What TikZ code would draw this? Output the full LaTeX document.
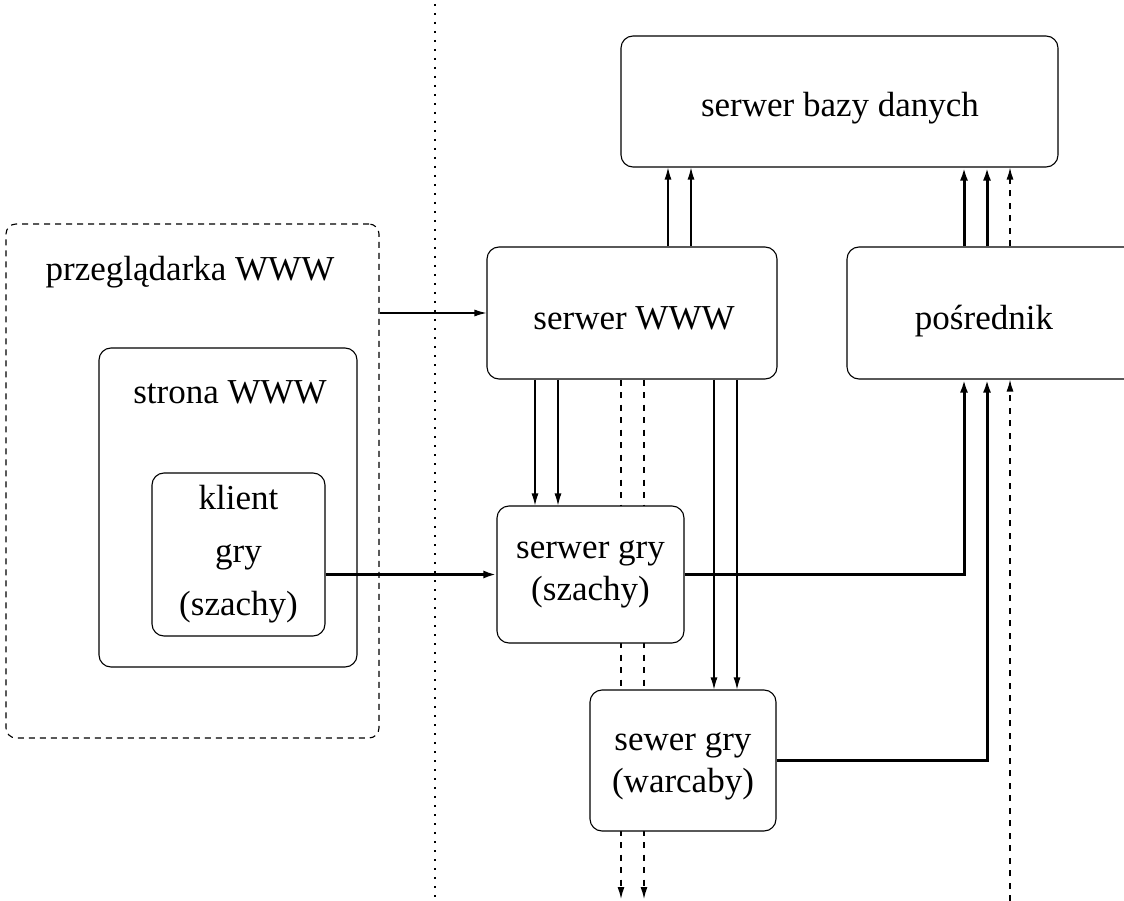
\documentclass[tikz,border=0pt]{standalone}
\usepackage{fontspec}
\setmainfont{Liberation Serif}
\usetikzlibrary{arrows.meta,backgrounds}
\begin{document}
\begin{tikzpicture}[x=1pt,y=-1pt,
  txt/.style={inner sep=0pt, align=center, font=\fontsize{35}{42}\selectfont},
  box/.style={draw, rounded corners=12pt, line width=1.1pt, fill=white, inner sep=0pt},
  thinarr/.style={line width=1.1pt, -{Latex[length=12pt,width=7pt]}},
  thickarr/.style={line width=3pt, -{Latex[length=13pt,width=8pt]}},
  dasharr/.style={line width=1.3pt, dash pattern=on 6pt off 6.5pt, -{Latex[length=12pt,width=7pt]}},
]
\useasboundingbox (0,0) rectangle (1124,901);

% vertical dotted separator
\coordinate (sepTop) at (435,4);
\coordinate (sepBot) at (435,901);
\draw[line width=1.6pt, dash pattern=on 1.6pt off 7.4pt] (sepTop) -- (sepBot);

% boxes
\node[box, dashed, dash pattern=on 6pt off 5pt, rounded corners=10pt, minimum width=373pt, minimum height=514pt] (browser) at (192.5,481) {};
\node[txt] (browserlabel) at (190,272) {przeglądarka WWW};
\node[box, minimum width=258pt, minimum height=319pt] (strona) at (228,507.5) {};
\node[txt] (stronalabel) at (230,392) {strona WWW};
\node[box, minimum width=173pt, minimum height=163pt] (klient) at (238.5,554.5) {};
\node[txt, font=\fontsize{35}{53}\selectfont] (klientlabel) at (238.5,554.5) {klient\\gry\\(szachy)};

\node[box, minimum width=437pt, minimum height=131pt] (db) at (839.5,101.5) {};
\node[txt] (dblabel) at (840,108.5) {serwer bazy danych};
\node[box, minimum width=290pt, minimum height=132pt] (www) at (632,313) {};
\node[txt] (wwwlabel) at (634,318) {serwer WWW};
\node[box, minimum width=300pt, minimum height=132pt] (posr) at (997,313) {};
\node[txt] (posrlabel) at (984,321) {pośrednik};
\node[box, minimum width=187pt, minimum height=137pt] (gry1) at (590.5,574.5) {};
\node[txt] (gry1label) at (590.5,574.5) {serwer gry\\(szachy)};
\node[box, minimum width=186pt, minimum height=141pt] (gry2) at (683,760.5) {};
\node[txt] (gry2label) at (683,766) {sewer gry\\(warcaby)};

% helper coordinates
\path ([xshift=36pt]www.north) coordinate (wn1)
      ([xshift=59pt]www.north) coordinate (wn2)
      ([xshift=-33pt]posr.north) coordinate (pn1)
      ([xshift=-10pt]posr.north) coordinate (pn2)
      ([xshift=13pt]posr.north) coordinate (pn3)
      ([xshift=-97pt]www.south) coordinate (ws1)
      ([xshift=-74pt]www.south) coordinate (ws2)
      ([xshift=-11pt]www.south) coordinate (ws3)
      ([xshift=12pt]www.south) coordinate (ws4)
      ([xshift=82pt]www.south) coordinate (ws5)
      ([xshift=105pt]www.south) coordinate (ws6)
      ([xshift=-33pt]posr.south) coordinate (ps1)
      ([xshift=-10pt]posr.south) coordinate (ps2)
      ([xshift=13pt]posr.south) coordinate (ps3);
\coordinate (bot) at (0,899);
\coordinate (botR) at (1010,901);

% dashed lines passing behind the game servers
\begin{scope}[on background layer]
  \draw[dasharr] (ws3) -- (ws3 |- bot);
  \draw[dasharr] (ws4) -- (ws4 |- bot);
\end{scope}

% connectors
\draw[thinarr] (browser.east |- www.west) -- (www.west);
\draw[thinarr] (wn1) -- (wn1 |- db.south);
\draw[thinarr] (wn2) -- (wn2 |- db.south);
\draw[thickarr] (pn1) -- (pn1 |- db.south);
\draw[thickarr] (pn2) -- (pn2 |- db.south);
\draw[dasharr] (pn3) -- (pn3 |- db.south);
\draw[thinarr] (ws1) -- (ws1 |- gry1.north);
\draw[thinarr] (ws2) -- (ws2 |- gry1.north);
\draw[thinarr] (ws5) -- (ws5 |- gry2.north);
\draw[thinarr] (ws6) -- (ws6 |- gry2.north);
\draw[thickarr] (klient.east |- gry1.west) -- (gry1.west);
\draw[thickarr] (gry1.east) -| (ps1);
\draw[thickarr] (gry2.east) -| (ps2);
\draw[dasharr] (botR) -- (ps3);
\end{tikzpicture}
\end{document}
